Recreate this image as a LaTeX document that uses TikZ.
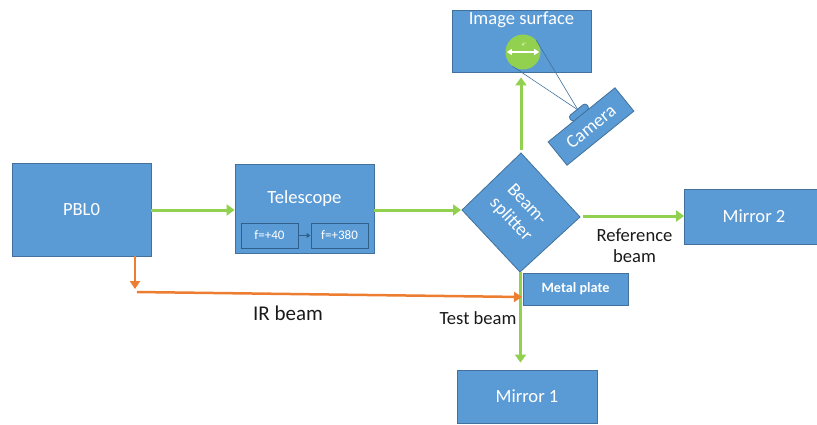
\documentclass[tikz,border=0pt]{standalone}
\usepackage{fontspec}
\setmainfont{Carlito}
\usetikzlibrary{arrows.meta}
\definecolor{boxblue}{HTML}{5B9BD5}
\definecolor{boxedge}{HTML}{41719C}
\definecolor{lensedge}{HTML}{2F5F8A}
\definecolor{beamgreen}{HTML}{92D050}
\definecolor{irorange}{HTML}{ED7D31}
\definecolor{labelgray}{HTML}{1A1A1A}
\begin{document}
\begin{tikzpicture}[x=1pt,y=-1pt,
  box/.style={draw=boxedge, line width=0.8pt, fill=boxblue, text=white,
    font=\fontsize{18.6}{21}\selectfont, inner sep=0pt},
  boxtext/.style={text=white, font=\fontsize{18.6}{21}\selectfont, inner sep=0pt},
  lens/.style={draw=lensedge, line width=1pt, fill=boxblue, text=white,
    font=\fontsize{13}{14}\selectfont, inner sep=0pt, minimum width=57pt, minimum height=25pt},
  gbeam/.style={draw=beamgreen, line width=3pt, -{Triangle[length=8pt,width=11pt]}},
  obeam/.style={draw=irorange, line width=2.5pt, -{Triangle[length=8pt,width=10pt]}},
  lbl/.style={text=labelgray, font=\fontsize{18.6}{21}\selectfont, inner sep=0pt, align=center},
  sightline/.style={draw=boxedge, line width=0.6pt}
]
\useasboundingbox (0,0) rectangle (817,424);

% boxes
\node[box, minimum width=139pt, minimum height=93pt] (pbl) at (81.5,209.5) {PBL0};
\node[box, minimum width=139pt, minimum height=89pt] (tel) at (304.5,208.5) {};
\node[boxtext] (tellbl) at (304.5,199) {Telescope};
\node[lens] (l1) at (269.5,235.5) {f=+40};
\node[lens] (l2) at (339.5,235.5) {f=+380};
\draw[draw=lensedge, line width=1pt, -{Triangle[length=4pt,width=5pt]}] (l1.east) -- (l2.west);

\node[box, minimum width=139pt, minimum height=62pt] (img) at (521.5,41) {};
\node[boxtext] (imglbl) at (521.5,20) {Image surface};
\node[circle, fill=beamgreen, minimum size=35pt, inner sep=0pt] (spot) at (523,52) {};
\draw[white, line width=1.2pt, {Triangle[length=5pt,width=6pt]}-{Triangle[length=5pt,width=6pt]}]
  ([xshift=1.5pt]spot.west) -- ([xshift=-1.5pt]spot.east);
\node[text=white, font=\fontsize{5}{5}\selectfont, inner sep=0pt] (spotlbl) at (524,45) {4"};

\node[box, minimum width=139pt, minimum height=55pt] (m2) at (754,216.5) {Mirror 2};
\node[box, minimum width=140pt, minimum height=53pt] (m1) at (527,396.5) {Mirror 1};
\node[box, minimum width=105pt, minimum height=32pt, font=\fontsize{14.2}{15}\selectfont\bfseries] (mp) at (575.5,289) {Metal plate};

% camera
\node[draw=boxedge, line width=0.8pt, fill=boxblue, rounded corners=3pt, rotate=39,
  minimum width=22pt, minimum height=7pt, inner sep=0pt] (bump) at (579,112.5) {};
\node[box, rotate=39, minimum width=86pt, minimum height=30pt] (cam) at (591,126.5) {Camera};
\coordinate (camtop) at (578,110);
\draw[sightline] (spot.234) -- (camtop);
\draw[sightline] (spot.41) -- (camtop);

% beam splitter
\coordinate (bsL) at (462,210);
\coordinate (bsT) at (521,153);
\coordinate (bsR) at (580,217);
\coordinate (bsB) at (520,272);
\draw[draw=boxedge, line width=0.8pt, fill=boxblue] (bsL) -- (bsT) -- (bsR) -- (bsB) -- cycle;
\node[boxtext, rotate=-47, align=center, font=\fontsize{18.6}{22}\selectfont] (bs) at (518.5,212.5) {Beam-\\splitter};

% green beams
\draw[gbeam] (pbl.east |- 0,210) -- (tel.west |- 0,210);
\draw[gbeam] (tel.east |- bsL) -- ([xshift=-1pt]bsL);
\draw[gbeam] ([xshift=3pt]bsR |- 0,216) -- (m2.west |- 0,216);
\draw[gbeam, shorten >=5pt] ([yshift=3pt]bsT) -- (bsT |- img.south);
\draw[gbeam, shorten >=7pt] ([xshift=0.5pt]bsB) -- ([xshift=0.5pt]bsB |- m1.north);

% IR beam
\coordinate (irc) at (135,292);
\coordinate (irend) at (522,297);
\draw[obeam] (irc |- pbl.south) -- ([yshift=3pt]irc);
\draw[obeam] ([xshift=2pt]irc) -- (irend);

% labels
\node[lbl, font=\fontsize{21}{23}\selectfont] (irlbl) at (288,313) {IR beam};
\node[lbl] (testlbl) at (478,318) {Test beam};
\node[lbl] (reflbl) at (634.5,246) {Reference\\beam};
\end{tikzpicture}
\end{document}
